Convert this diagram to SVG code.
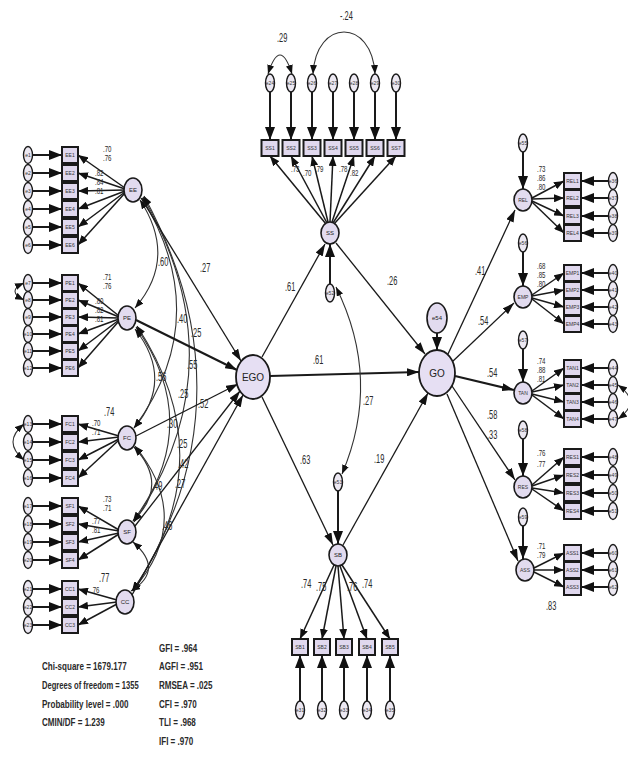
<svg xmlns="http://www.w3.org/2000/svg" width="628" height="761" viewBox="0 0 628 761">
<style>
  .lv{fill:#e2dbef;stroke:#1a1a1a;stroke-width:1.6}
  .big{fill:#e6dff3;stroke:#1a1a1a;stroke-width:1.8}
  .er{fill:#ece8f2;stroke:#1a1a1a;stroke-width:1.4}
  .ob{fill:#e0d8ee;stroke:#1a1a1a;stroke-width:2}
  .t{font-family:"Liberation Sans",Arial,sans-serif;font-size:5px;fill:#333;text-anchor:middle}
  .tl{font-family:"Liberation Sans",Arial,sans-serif;font-size:6px;fill:#222;text-anchor:middle}
  .tb{font-family:"Liberation Sans",Arial,sans-serif;font-size:10px;fill:#222;text-anchor:middle}
  .v{font-family:"Liberation Sans",Arial,sans-serif;font-size:12px;fill:#2a2a2a}
  .vs{font-family:"Liberation Sans",Arial,sans-serif;font-size:8.5px;fill:#2a2a2a}
  .s{font-family:"Liberation Sans",Arial,sans-serif;font-size:11.5px;font-weight:bold;fill:#2a2a2a}
  .p{fill:none;stroke:#1a1a1a;stroke-width:1.3}
  .pk{fill:none;stroke:#1a1a1a;stroke-width:2.2}
  .ld{fill:none;stroke:#1a1a1a;stroke-width:1.5}
  .ea{fill:none;stroke:#1a1a1a;stroke-width:2}
  .cv{fill:none;stroke:#333;stroke-width:1.1}
</style>
<defs>
  <marker id="a" viewBox="0 0 12 8" refX="12" refY="4" markerWidth="12" markerHeight="8" orient="auto" markerUnits="userSpaceOnUse"><path d="M0,0 L12,4 L0,8 z" fill="#111"/></marker>
  <marker id="l" viewBox="0 0 10 8" refX="10" refY="4" markerWidth="10" markerHeight="8" orient="auto" markerUnits="userSpaceOnUse"><path d="M0,0 L10,4 L0,8 z" fill="#111"/></marker>
  <marker id="b" viewBox="0 0 13 10" refX="13" refY="5" markerWidth="13" markerHeight="10" orient="auto" markerUnits="userSpaceOnUse"><path d="M0,0 L13,5 L0,10 z" fill="#111"/></marker>
  <marker id="c" viewBox="0 0 9 7" refX="9" refY="3.5" markerWidth="9" markerHeight="7" orient="auto-start-reverse" markerUnits="userSpaceOnUse"><path d="M0,0 L9,3.5 L0,7 z" fill="#111"/></marker>
</defs>
<rect width="628" height="761" fill="#fff"/>

<!-- connectors -->
<g id="connectors">
  <!-- residuals into left indicators -->
  <g marker-end="url(#b)" class="ea">
    <line x1="33" y1="155" x2="62" y2="155"/><line x1="33" y1="173" x2="62" y2="173"/><line x1="33" y1="191" x2="62" y2="191"/>
    <line x1="33" y1="209" x2="62" y2="209"/><line x1="33" y1="227" x2="62" y2="227"/><line x1="33" y1="245" x2="62" y2="245"/>
    <line x1="33" y1="283" x2="62" y2="283"/><line x1="33" y1="300" x2="62" y2="300"/><line x1="33" y1="317" x2="62" y2="317"/>
    <line x1="33" y1="334" x2="62" y2="334"/><line x1="33" y1="351" x2="62" y2="351"/><line x1="33" y1="368" x2="62" y2="368"/>
    <line x1="33" y1="424" x2="62" y2="424"/><line x1="33" y1="442" x2="62" y2="442"/><line x1="33" y1="460" x2="62" y2="460"/>
    <line x1="33" y1="478" x2="62" y2="478"/>
    <line x1="33" y1="506" x2="62" y2="506"/><line x1="33" y1="524" x2="62" y2="524"/><line x1="33" y1="542" x2="62" y2="542"/>
    <line x1="33" y1="560" x2="62" y2="560"/>
    <line x1="33" y1="589" x2="62" y2="589"/><line x1="33" y1="607" x2="62" y2="607"/><line x1="33" y1="625" x2="62" y2="625"/>
  </g>
  <!-- left loadings -->
  <g marker-end="url(#l)" class="ld">
    <line x1="125" y1="188" x2="78" y2="155"/><line x1="125" y1="189" x2="78" y2="173"/><line x1="125" y1="190" x2="78" y2="191"/>
    <line x1="125" y1="191" x2="78" y2="209"/><line x1="125" y1="192" x2="78" y2="227"/><line x1="125" y1="193" x2="78" y2="245"/>
    <line x1="119" y1="316" x2="78" y2="283"/><line x1="119" y1="317" x2="78" y2="300"/><line x1="119" y1="318" x2="78" y2="317"/>
    <line x1="119" y1="319" x2="78" y2="334"/><line x1="119" y1="320" x2="78" y2="351"/><line x1="119" y1="321" x2="78" y2="368"/>
    <line x1="119" y1="436" x2="78" y2="424"/><line x1="119" y1="437" x2="78" y2="442"/><line x1="119" y1="439" x2="78" y2="460"/>
    <line x1="119" y1="440" x2="78" y2="478"/>
    <line x1="119" y1="530" x2="78" y2="506"/><line x1="119" y1="531" x2="78" y2="524"/><line x1="119" y1="533" x2="78" y2="542"/>
    <line x1="119" y1="534" x2="78" y2="560"/>
    <line x1="117" y1="600" x2="78" y2="589"/><line x1="117" y1="602" x2="78" y2="607"/><line x1="117" y1="604" x2="78" y2="625"/>
  </g>
  <!-- residual covariances among left indicators -->
  <path class="cv" d="M24,283 Q6,291 24,300" marker-start="url(#c)" marker-end="url(#c)"/>
  <path class="cv" d="M24,424 Q2,442 24,460" marker-start="url(#c)" marker-end="url(#c)"/>

  <!-- covariances among first-order factors -->
  <g class="cv" marker-start="url(#c)" marker-end="url(#c)">
    <path d="M140,200 Q178,258 135,308"/>
    <path d="M142,198 Q215,318 134,428"/>
    <path d="M143,197 Q240,365 134,522"/>
    <path d="M144,196 Q255,400 133,591"/>
    <path d="M135,329 Q175,380 134,428"/>
    <path d="M136,327 Q205,425 133,521"/>
    <path d="M137,326 Q225,460 132,591"/>
    <path d="M134,447 Q170,485 133,521"/>
    <path d="M135,446 Q195,520 132,591"/>
    <path d="M133,542 Q165,570 131,591"/>
  </g>

  <!-- first-order factors into EGO -->
  <line class="p" x1="141" y1="198" x2="241" y2="361" marker-end="url(#a)"/>
  <line class="pk" x1="136" y1="320" x2="237" y2="370" marker-end="url(#a)"/>
  <line class="p" x1="136" y1="436" x2="238" y2="384" marker-end="url(#a)"/>
  <line class="p" x1="135" y1="526" x2="240" y2="391" marker-end="url(#a)"/>
  <line class="p" x1="132" y1="595" x2="243" y2="395" marker-end="url(#a)"/>

  <!-- structural paths -->
  <line class="pk" x1="270" y1="376" x2="419" y2="372" marker-end="url(#a)"/>
  <line class="p" x1="262" y1="357" x2="325" y2="244" marker-end="url(#a)"/>
  <line class="p" x1="336" y1="243" x2="425" y2="354" marker-end="url(#a)"/>
  <line class="p" x1="262" y1="397" x2="333" y2="545" marker-end="url(#a)"/>
  <line class="p" x1="343" y1="545" x2="428" y2="393" marker-end="url(#a)"/>
  <line class="p" x1="448" y1="354" x2="515" y2="210" marker-end="url(#a)"/>
  <line class="p" x1="452" y1="362" x2="514" y2="303" marker-end="url(#a)"/>
  <line class="pk" x1="455" y1="376" x2="514" y2="390" marker-end="url(#a)"/>
  <line class="p" x1="452" y1="386" x2="515" y2="480" marker-end="url(#a)"/>
  <line class="p" x1="447" y1="394" x2="518" y2="561" marker-end="url(#a)"/>

  <!-- disturbances -->
  <g class="ea" marker-end="url(#b)">
    <line x1="437" y1="333" x2="437" y2="350"/>
    <line x1="330" y1="284" x2="330" y2="244"/>
    <line x1="338" y1="491" x2="338" y2="544"/>
    <line x1="523" y1="152" x2="523" y2="189"/>
    <line x1="523" y1="252" x2="523" y2="286"/>
    <line x1="523" y1="349" x2="523" y2="382"/>
    <line x1="523" y1="439" x2="523" y2="476"/>
    <line x1="523" y1="526" x2="523" y2="559"/>
  </g>
  <path class="cv" d="M336,287 Q382,380 342,474" marker-start="url(#c)" marker-end="url(#c)"/>

  <!-- top indicators -->
  <g class="ea" marker-end="url(#b)">
    <line x1="270" y1="92" x2="270" y2="140"/><line x1="291" y1="92" x2="291" y2="140"/><line x1="312" y1="92" x2="312" y2="140"/>
    <line x1="333" y1="92" x2="333" y2="140"/><line x1="354" y1="92" x2="354" y2="140"/><line x1="375" y1="92" x2="375" y2="140"/>
    <line x1="396" y1="92" x2="396" y2="140"/>
  </g>
  <g class="ld" marker-end="url(#l)">
    <line x1="326" y1="224" x2="270" y2="156"/><line x1="327" y1="223" x2="291" y2="156"/><line x1="328" y1="222" x2="312" y2="156"/>
    <line x1="330" y1="222" x2="333" y2="156"/><line x1="332" y1="222" x2="354" y2="156"/><line x1="333" y1="223" x2="375" y2="156"/>
    <line x1="334" y1="224" x2="396" y2="156"/>
  </g>
  <path class="cv" d="M268,74 Q280,36 292,74" marker-start="url(#c)" marker-end="url(#c)"/>
  <path class="cv" d="M313,74 C316,18 372,18 375,74" marker-start="url(#c)" marker-end="url(#c)"/>

  <!-- bottom indicators -->
  <g class="ld" marker-end="url(#l)">
    <line x1="334" y1="565" x2="300" y2="639"/><line x1="336" y1="566" x2="322" y2="639"/><line x1="338" y1="566" x2="344" y2="639"/>
    <line x1="340" y1="566" x2="367" y2="639"/><line x1="342" y1="565" x2="390" y2="639"/>
  </g>
  <g class="ea" marker-end="url(#b)">
    <line x1="300" y1="701" x2="300" y2="655"/><line x1="322" y1="701" x2="322" y2="655"/><line x1="344" y1="701" x2="344" y2="655"/>
    <line x1="367" y1="701" x2="367" y2="655"/><line x1="390" y1="701" x2="390" y2="655"/>
  </g>

  <!-- right indicators -->
  <g class="ld" marker-end="url(#l)">
    <line x1="532" y1="198" x2="564" y2="181"/><line x1="532" y1="199" x2="564" y2="198"/><line x1="532" y1="201" x2="564" y2="216"/><line x1="532" y1="202" x2="564" y2="233"/>
    <line x1="532" y1="295" x2="564" y2="273"/><line x1="532" y1="296" x2="564" y2="290"/><line x1="532" y1="298" x2="564" y2="307"/><line x1="532" y1="299" x2="564" y2="324"/>
    <line x1="532" y1="391" x2="564" y2="368"/><line x1="532" y1="392" x2="564" y2="385"/><line x1="532" y1="394" x2="564" y2="402"/><line x1="532" y1="395" x2="564" y2="419"/>
    <line x1="532" y1="485" x2="564" y2="457"/><line x1="532" y1="486" x2="564" y2="475"/><line x1="532" y1="488" x2="564" y2="493"/><line x1="532" y1="489" x2="564" y2="511"/>
    <line x1="534" y1="568" x2="564" y2="553"/><line x1="534" y1="570" x2="564" y2="570"/><line x1="534" y1="572" x2="564" y2="587"/>
  </g>
  <g class="ea" marker-end="url(#b)">
    <line x1="608" y1="181" x2="581" y2="181"/><line x1="608" y1="198" x2="581" y2="198"/><line x1="608" y1="216" x2="581" y2="216"/><line x1="608" y1="233" x2="581" y2="233"/>
    <line x1="608" y1="273" x2="581" y2="273"/><line x1="608" y1="290" x2="581" y2="290"/><line x1="608" y1="307" x2="581" y2="307"/><line x1="608" y1="324" x2="581" y2="324"/>
    <line x1="608" y1="368" x2="581" y2="368"/><line x1="608" y1="385" x2="581" y2="385"/><line x1="608" y1="402" x2="581" y2="402"/><line x1="608" y1="419" x2="581" y2="419"/>
    <line x1="608" y1="457" x2="581" y2="457"/><line x1="608" y1="475" x2="581" y2="475"/><line x1="608" y1="493" x2="581" y2="493"/><line x1="608" y1="511" x2="581" y2="511"/>
    <line x1="608" y1="553" x2="581" y2="553"/><line x1="608" y1="570" x2="581" y2="570"/><line x1="608" y1="587" x2="581" y2="587"/>
  </g>
  <path class="cv" d="M618,385 Q642,402 618,419" marker-start="url(#c)" marker-end="url(#c)"/>
</g>

<!-- left residual terms -->
<g id="left-errors">
  <g id="e1"><ellipse class="er" cx="28" cy="155" rx="4.5" ry="8.5"/><text class="t" x="28" y="157">e1</text></g>
  <g id="e2"><ellipse class="er" cx="28" cy="173" rx="4.5" ry="8.5"/><text class="t" x="28" y="175">e2</text></g>
  <g id="e3"><ellipse class="er" cx="28" cy="191" rx="4.5" ry="8.5"/><text class="t" x="28" y="193">e3</text></g>
  <g id="e4"><ellipse class="er" cx="28" cy="209" rx="4.5" ry="8.5"/><text class="t" x="28" y="211">e4</text></g>
  <g id="e5"><ellipse class="er" cx="28" cy="227" rx="4.5" ry="8.5"/><text class="t" x="28" y="229">e5</text></g>
  <g id="e6"><ellipse class="er" cx="28" cy="245" rx="4.5" ry="8.5"/><text class="t" x="28" y="247">e6</text></g>
  <g id="e7"><ellipse class="er" cx="28" cy="283" rx="4.5" ry="8.5"/><text class="t" x="28" y="285">e7</text></g>
  <g id="e8"><ellipse class="er" cx="28" cy="300" rx="4.5" ry="8.5"/><text class="t" x="28" y="302">e8</text></g>
  <g id="e9"><ellipse class="er" cx="28" cy="317" rx="4.5" ry="8.5"/><text class="t" x="28" y="319">e9</text></g>
  <g id="e10"><ellipse class="er" cx="28" cy="334" rx="4.5" ry="8.5"/><text class="t" x="28" y="336">e10</text></g>
  <g id="e11"><ellipse class="er" cx="28" cy="351" rx="4.5" ry="8.5"/><text class="t" x="28" y="353">e11</text></g>
  <g id="e12"><ellipse class="er" cx="28" cy="368" rx="4.5" ry="8.5"/><text class="t" x="28" y="370">e12</text></g>
  <g id="e13"><ellipse class="er" cx="28" cy="424" rx="4.5" ry="8.5"/><text class="t" x="28" y="426">e13</text></g>
  <g id="e14"><ellipse class="er" cx="28" cy="442" rx="4.5" ry="8.5"/><text class="t" x="28" y="444">e14</text></g>
  <g id="e15"><ellipse class="er" cx="28" cy="460" rx="4.5" ry="8.5"/><text class="t" x="28" y="462">e15</text></g>
  <g id="e16"><ellipse class="er" cx="28" cy="478" rx="4.5" ry="8.5"/><text class="t" x="28" y="480">e16</text></g>
  <g id="e17"><ellipse class="er" cx="28" cy="506" rx="4.5" ry="8.5"/><text class="t" x="28" y="508">e17</text></g>
  <g id="e18"><ellipse class="er" cx="28" cy="524" rx="4.5" ry="8.5"/><text class="t" x="28" y="526">e18</text></g>
  <g id="e19"><ellipse class="er" cx="28" cy="542" rx="4.5" ry="8.5"/><text class="t" x="28" y="544">e19</text></g>
  <g id="e20"><ellipse class="er" cx="28" cy="560" rx="4.5" ry="8.5"/><text class="t" x="28" y="562">e20</text></g>
  <g id="e21"><ellipse class="er" cx="28" cy="589" rx="4.5" ry="8.5"/><text class="t" x="28" y="591">e21</text></g>
  <g id="e22"><ellipse class="er" cx="28" cy="607" rx="4.5" ry="8.5"/><text class="t" x="28" y="609">e22</text></g>
  <g id="e23"><ellipse class="er" cx="28" cy="625" rx="4.5" ry="8.5"/><text class="t" x="28" y="627">e23</text></g>
</g>

<!-- left indicators -->
<g id="left-items">
  <g id="EE1"><rect class="ob" x="62" y="147" width="16" height="16"/><text class="t" x="70" y="157">EE1</text></g>
  <g id="EE2"><rect class="ob" x="62" y="165" width="16" height="16"/><text class="t" x="70" y="175">EE2</text></g>
  <g id="EE3"><rect class="ob" x="62" y="183" width="16" height="16"/><text class="t" x="70" y="193">EE3</text></g>
  <g id="EE4"><rect class="ob" x="62" y="201" width="16" height="16"/><text class="t" x="70" y="211">EE4</text></g>
  <g id="EE5"><rect class="ob" x="62" y="219" width="16" height="16"/><text class="t" x="70" y="229">EE5</text></g>
  <g id="EE6"><rect class="ob" x="62" y="237" width="16" height="16"/><text class="t" x="70" y="247">EE6</text></g>
  <g id="PE1"><rect class="ob" x="62" y="275" width="16" height="16"/><text class="t" x="70" y="285">PE1</text></g>
  <g id="PE2"><rect class="ob" x="62" y="292" width="16" height="16"/><text class="t" x="70" y="302">PE2</text></g>
  <g id="PE3"><rect class="ob" x="62" y="309" width="16" height="16"/><text class="t" x="70" y="319">PE3</text></g>
  <g id="PE4"><rect class="ob" x="62" y="326" width="16" height="16"/><text class="t" x="70" y="336">PE4</text></g>
  <g id="PE5"><rect class="ob" x="62" y="343" width="16" height="16"/><text class="t" x="70" y="353">PE5</text></g>
  <g id="PE6"><rect class="ob" x="62" y="360" width="16" height="16"/><text class="t" x="70" y="370">PE6</text></g>
  <g id="FC1"><rect class="ob" x="62" y="416" width="16" height="16"/><text class="t" x="70" y="426">FC1</text></g>
  <g id="FC2"><rect class="ob" x="62" y="434" width="16" height="16"/><text class="t" x="70" y="444">FC2</text></g>
  <g id="FC3"><rect class="ob" x="62" y="452" width="16" height="16"/><text class="t" x="70" y="462">FC3</text></g>
  <g id="FC4"><rect class="ob" x="62" y="470" width="16" height="16"/><text class="t" x="70" y="480">FC4</text></g>
  <g id="SF1"><rect class="ob" x="62" y="498" width="16" height="16"/><text class="t" x="70" y="508">SF1</text></g>
  <g id="SF2"><rect class="ob" x="62" y="516" width="16" height="16"/><text class="t" x="70" y="526">SF2</text></g>
  <g id="SF3"><rect class="ob" x="62" y="534" width="16" height="16"/><text class="t" x="70" y="544">SF3</text></g>
  <g id="SF4"><rect class="ob" x="62" y="552" width="16" height="16"/><text class="t" x="70" y="562">SF4</text></g>
  <g id="CC1"><rect class="ob" x="62" y="581" width="16" height="16"/><text class="t" x="70" y="591">CC1</text></g>
  <g id="CC2"><rect class="ob" x="62" y="599" width="16" height="16"/><text class="t" x="70" y="609">CC2</text></g>
  <g id="CC3"><rect class="ob" x="62" y="617" width="16" height="16"/><text class="t" x="70" y="627">CC3</text></g>
</g>

<!-- first-order factors (left) -->
<g id="EE"><ellipse class="lv" cx="133" cy="190" rx="9" ry="12"/><text class="tl" x="133" y="192">EE</text></g>
<g id="PE"><ellipse class="lv" cx="127" cy="318" rx="9" ry="12"/><text class="tl" x="127" y="320">PE</text></g>
<g id="FC"><ellipse class="lv" cx="127" cy="438" rx="9" ry="12"/><text class="tl" x="127" y="440">FC</text></g>
<g id="SF"><ellipse class="lv" cx="127" cy="532" rx="9" ry="12"/><text class="tl" x="127" y="534">SF</text></g>
<g id="CC"><ellipse class="lv" cx="125" cy="602" rx="9" ry="12"/><text class="tl" x="125" y="604">CC</text></g>

<!-- central factors -->
<g id="EGO"><ellipse class="big" cx="253" cy="377" rx="17" ry="22"/><text class="tb" x="253" y="381">EGO</text></g>
<g id="GO"><ellipse class="big" cx="437" cy="373" rx="18" ry="23"/><text class="tb" x="437" y="377">GO</text></g>
<g id="e54"><ellipse class="lv" cx="437" cy="318" rx="10" ry="15"/><text class="tl" x="437" y="320">e54</text></g>

<!-- upper mediator and its items -->
<g id="SS"><ellipse class="lv" cx="330" cy="233" rx="9" ry="11"/><text class="tl" x="330" y="235">SS</text></g>
<g id="e52"><ellipse class="er" cx="330" cy="293" rx="4.5" ry="9"/><text class="t" x="330" y="295">e52</text></g>
<g id="top-items">
  <g id="SS1"><rect class="ob" x="261.5" y="140" width="17" height="16"/><text class="t" x="270" y="150">SS1</text></g>
  <g id="SS2"><rect class="ob" x="282.5" y="140" width="17" height="16"/><text class="t" x="291" y="150">SS2</text></g>
  <g id="SS3"><rect class="ob" x="303.5" y="140" width="17" height="16"/><text class="t" x="312" y="150">SS3</text></g>
  <g id="SS4"><rect class="ob" x="324.5" y="140" width="17" height="16"/><text class="t" x="333" y="150">SS4</text></g>
  <g id="SS5"><rect class="ob" x="345.5" y="140" width="17" height="16"/><text class="t" x="354" y="150">SS5</text></g>
  <g id="SS6"><rect class="ob" x="366.5" y="140" width="17" height="16"/><text class="t" x="375" y="150">SS6</text></g>
  <g id="SS7"><rect class="ob" x="387.5" y="140" width="17" height="16"/><text class="t" x="396" y="150">SS7</text></g>
</g>
<g id="top-errors">
  <g id="e24"><ellipse class="er" cx="270" cy="83" rx="4.5" ry="9"/><text class="t" x="270" y="85">e24</text></g>
  <g id="e25"><ellipse class="er" cx="291" cy="83" rx="4.5" ry="9"/><text class="t" x="291" y="85">e25</text></g>
  <g id="e26"><ellipse class="er" cx="312" cy="83" rx="4.5" ry="9"/><text class="t" x="312" y="85">e26</text></g>
  <g id="e27"><ellipse class="er" cx="333" cy="83" rx="4.5" ry="9"/><text class="t" x="333" y="85">e27</text></g>
  <g id="e28"><ellipse class="er" cx="354" cy="83" rx="4.5" ry="9"/><text class="t" x="354" y="85">e28</text></g>
  <g id="e29"><ellipse class="er" cx="375" cy="83" rx="4.5" ry="9"/><text class="t" x="375" y="85">e29</text></g>
  <g id="e30"><ellipse class="er" cx="396" cy="83" rx="4.5" ry="9"/><text class="t" x="396" y="85">e30</text></g>
</g>

<!-- lower mediator and its items -->
<g id="SB"><ellipse class="lv" cx="338" cy="555" rx="9" ry="11"/><text class="tl" x="338" y="557">SB</text></g>
<g id="e53"><ellipse class="er" cx="338" cy="482" rx="4.5" ry="9"/><text class="t" x="338" y="484">e53</text></g>
<g id="bottom-items">
  <g id="SB1"><rect class="ob" x="292" y="639" width="16" height="16"/><text class="t" x="300" y="649">SB1</text></g>
  <g id="SB2"><rect class="ob" x="314" y="639" width="16" height="16"/><text class="t" x="322" y="649">SB2</text></g>
  <g id="SB3"><rect class="ob" x="336" y="639" width="16" height="16"/><text class="t" x="344" y="649">SB3</text></g>
  <g id="SB4"><rect class="ob" x="359" y="639" width="16" height="16"/><text class="t" x="367" y="649">SB4</text></g>
  <g id="SB5"><rect class="ob" x="382" y="639" width="16" height="16"/><text class="t" x="390" y="649">SB5</text></g>
</g>
<g id="bottom-errors">
  <g id="e31"><ellipse class="er" cx="300" cy="710" rx="4.5" ry="9"/><text class="t" x="300" y="712">e31</text></g>
  <g id="e32"><ellipse class="er" cx="322" cy="710" rx="4.5" ry="9"/><text class="t" x="322" y="712">e32</text></g>
  <g id="e33"><ellipse class="er" cx="344" cy="710" rx="4.5" ry="9"/><text class="t" x="344" y="712">e33</text></g>
  <g id="e34"><ellipse class="er" cx="367" cy="710" rx="4.5" ry="9"/><text class="t" x="367" y="712">e34</text></g>
  <g id="e35"><ellipse class="er" cx="390" cy="710" rx="4.5" ry="9"/><text class="t" x="390" y="712">e35</text></g>
</g>

<!-- first-order factors (right) -->
<g id="REL"><ellipse class="lv" cx="523" cy="200" rx="9" ry="11"/><text class="t" x="523" y="202">REL</text></g>
<g id="EMP"><ellipse class="lv" cx="523" cy="297" rx="9" ry="11"/><text class="t" x="523" y="299">EMP</text></g>
<g id="TAN"><ellipse class="lv" cx="523" cy="393" rx="9" ry="11"/><text class="t" x="523" y="395">TAN</text></g>
<g id="RES"><ellipse class="lv" cx="523" cy="487" rx="9" ry="11"/><text class="t" x="523" y="489">RES</text></g>
<g id="ASS"><ellipse class="lv" cx="525" cy="570" rx="9" ry="11"/><text class="t" x="525" y="572">ASS</text></g>
<g id="right-disturbances">
  <g id="e55"><ellipse class="er" cx="523" cy="143" rx="4.5" ry="9"/><text class="t" x="523" y="145">e55</text></g>
  <g id="e56"><ellipse class="er" cx="523" cy="243" rx="4.5" ry="9"/><text class="t" x="523" y="245">e56</text></g>
  <g id="e57"><ellipse class="er" cx="523" cy="340" rx="4.5" ry="9"/><text class="t" x="523" y="342">e57</text></g>
  <g id="e58"><ellipse class="er" cx="523" cy="430" rx="4.5" ry="9"/><text class="t" x="523" y="432">e58</text></g>
  <g id="e59"><ellipse class="er" cx="523" cy="517" rx="4.5" ry="9"/><text class="t" x="523" y="519">e59</text></g>
</g>
<g id="right-items">
  <g id="REL1"><rect class="ob" x="564" y="173" width="17" height="16"/><text class="t" x="572.5" y="183">REL1</text></g>
  <g id="REL2"><rect class="ob" x="564" y="190" width="17" height="16"/><text class="t" x="572.5" y="200">REL2</text></g>
  <g id="REL3"><rect class="ob" x="564" y="208" width="17" height="16"/><text class="t" x="572.5" y="218">REL3</text></g>
  <g id="REL4"><rect class="ob" x="564" y="225" width="17" height="16"/><text class="t" x="572.5" y="235">REL4</text></g>
  <g id="EMP1"><rect class="ob" x="564" y="265" width="17" height="16"/><text class="t" x="572.5" y="275">EMP1</text></g>
  <g id="EMP2"><rect class="ob" x="564" y="282" width="17" height="16"/><text class="t" x="572.5" y="292">EMP2</text></g>
  <g id="EMP3"><rect class="ob" x="564" y="299" width="17" height="16"/><text class="t" x="572.5" y="309">EMP3</text></g>
  <g id="EMP4"><rect class="ob" x="564" y="316" width="17" height="16"/><text class="t" x="572.5" y="326">EMP4</text></g>
  <g id="TAN1"><rect class="ob" x="564" y="360" width="17" height="16"/><text class="t" x="572.5" y="370">TAN1</text></g>
  <g id="TAN2"><rect class="ob" x="564" y="377" width="17" height="16"/><text class="t" x="572.5" y="387">TAN2</text></g>
  <g id="TAN3"><rect class="ob" x="564" y="394" width="17" height="16"/><text class="t" x="572.5" y="404">TAN3</text></g>
  <g id="TAN4"><rect class="ob" x="564" y="411" width="17" height="16"/><text class="t" x="572.5" y="421">TAN4</text></g>
  <g id="RES1"><rect class="ob" x="564" y="449" width="17" height="16"/><text class="t" x="572.5" y="459">RES1</text></g>
  <g id="RES2"><rect class="ob" x="564" y="467" width="17" height="16"/><text class="t" x="572.5" y="477">RES2</text></g>
  <g id="RES3"><rect class="ob" x="564" y="485" width="17" height="16"/><text class="t" x="572.5" y="495">RES3</text></g>
  <g id="RES4"><rect class="ob" x="564" y="503" width="17" height="16"/><text class="t" x="572.5" y="513">RES4</text></g>
  <g id="ASS1"><rect class="ob" x="564" y="545" width="17" height="16"/><text class="t" x="572.5" y="555">ASS1</text></g>
  <g id="ASS2"><rect class="ob" x="564" y="562" width="17" height="16"/><text class="t" x="572.5" y="572">ASS2</text></g>
  <g id="ASS3"><rect class="ob" x="564" y="579" width="17" height="16"/><text class="t" x="572.5" y="589">ASS3</text></g>
</g>
<g id="right-errors">
  <g id="e36"><ellipse class="er" cx="613" cy="181" rx="4.5" ry="8.5"/><text class="t" x="613" y="183">e36</text></g>
  <g id="e37"><ellipse class="er" cx="613" cy="198" rx="4.5" ry="8.5"/><text class="t" x="613" y="200">e37</text></g>
  <g id="e38"><ellipse class="er" cx="613" cy="216" rx="4.5" ry="8.5"/><text class="t" x="613" y="218">e38</text></g>
  <g id="e39"><ellipse class="er" cx="613" cy="233" rx="4.5" ry="8.5"/><text class="t" x="613" y="235">e39</text></g>
  <g id="e40"><ellipse class="er" cx="613" cy="273" rx="4.5" ry="8.5"/><text class="t" x="613" y="275">e40</text></g>
  <g id="e41"><ellipse class="er" cx="613" cy="290" rx="4.5" ry="8.5"/><text class="t" x="613" y="292">e41</text></g>
  <g id="e42"><ellipse class="er" cx="613" cy="307" rx="4.5" ry="8.5"/><text class="t" x="613" y="309">e42</text></g>
  <g id="e43"><ellipse class="er" cx="613" cy="324" rx="4.5" ry="8.5"/><text class="t" x="613" y="326">e43</text></g>
  <g id="e44"><ellipse class="er" cx="613" cy="368" rx="4.5" ry="8.5"/><text class="t" x="613" y="370">e44</text></g>
  <g id="e45"><ellipse class="er" cx="613" cy="385" rx="4.5" ry="8.5"/><text class="t" x="613" y="387">e45</text></g>
  <g id="e46"><ellipse class="er" cx="613" cy="402" rx="4.5" ry="8.5"/><text class="t" x="613" y="404">e46</text></g>
  <g id="e47"><ellipse class="er" cx="613" cy="419" rx="4.5" ry="8.5"/><text class="t" x="613" y="421">e47</text></g>
  <g id="e48"><ellipse class="er" cx="613" cy="457" rx="4.5" ry="8.5"/><text class="t" x="613" y="459">e48</text></g>
  <g id="e49"><ellipse class="er" cx="613" cy="475" rx="4.5" ry="8.5"/><text class="t" x="613" y="477">e49</text></g>
  <g id="e50"><ellipse class="er" cx="613" cy="493" rx="4.5" ry="8.5"/><text class="t" x="613" y="495">e50</text></g>
  <g id="e51"><ellipse class="er" cx="613" cy="511" rx="4.5" ry="8.5"/><text class="t" x="613" y="513">e51</text></g>
  <g id="e60"><ellipse class="er" cx="613" cy="553" rx="4.5" ry="8.5"/><text class="t" x="613" y="555">e60</text></g>
  <g id="e61"><ellipse class="er" cx="613" cy="570" rx="4.5" ry="8.5"/><text class="t" x="613" y="572">e61</text></g>
  <g id="e62"><ellipse class="er" cx="613" cy="587" rx="4.5" ry="8.5"/><text class="t" x="613" y="589">e62</text></g>
</g>

<!-- estimates: path labels are drawn narrow and tall -->
<g id="estimates">
  <!-- stacked loadings, left -->
  <text class="vs" transform="translate(103,152) scale(.72,1)">.70</text>
  <text class="vs" transform="translate(103,161) scale(.72,1)">.76</text>
  <text class="vs" transform="translate(95,176) scale(.72,1)">.82</text>
  <text class="vs" transform="translate(95,185) scale(.72,1)">.84</text>
  <text class="vs" transform="translate(95,194) scale(.72,1)">.81</text>
  <text class="vs" transform="translate(103,280) scale(.72,1)">.71</text>
  <text class="vs" transform="translate(103,289) scale(.72,1)">.76</text>
  <text class="vs" transform="translate(95,304) scale(.72,1)">.80</text>
  <text class="vs" transform="translate(95,313) scale(.72,1)">.82</text>
  <text class="vs" transform="translate(95,322) scale(.72,1)">.81</text>
  <text class="v" transform="translate(104,416) scale(.62,1)">.74</text>
  <text class="vs" transform="translate(92,426) scale(.72,1)">.70</text>
  <text class="vs" transform="translate(92,435) scale(.72,1)">.71</text>
  <text class="vs" transform="translate(103,502) scale(.72,1)">.73</text>
  <text class="vs" transform="translate(103,511) scale(.72,1)">.71</text>
  <text class="vs" transform="translate(92,524) scale(.72,1)">.77</text>
  <text class="vs" transform="translate(92,533) scale(.72,1)">.81</text>
  <text class="v" transform="translate(99,582) scale(.62,1)">.77</text>
  <text class="vs" transform="translate(91,593) scale(.72,1)">.76</text>

  <!-- factor covariances and paths into EGO -->
  <text class="v" transform="translate(158,266) scale(.62,1)">.60</text>
  <text class="v" transform="translate(200,272) scale(.62,1)">.27</text>
  <text class="v" transform="translate(177,323) scale(.62,1)">.40</text>
  <text class="v" transform="translate(191,337) scale(.62,1)">.25</text>
  <text class="v" transform="translate(187,369) scale(.62,1)">.55</text>
  <text class="v" transform="translate(156,381) scale(.62,1)">.56</text>
  <text class="v" transform="translate(178,398) scale(.62,1)">.25</text>
  <text class="v" transform="translate(198,408) scale(.62,1)">.52</text>
  <text class="v" transform="translate(167,428) scale(.62,1)">.30</text>
  <text class="v" transform="translate(177,448) scale(.62,1)">.25</text>
  <text class="v" transform="translate(178,468) scale(.62,1)">.42</text>
  <text class="v" transform="translate(175,488) scale(.62,1)">.27</text>
  <text class="v" transform="translate(152,490) scale(.62,1)">.49</text>
  <text class="v" transform="translate(162,530) scale(.62,1)">.46</text>

  <!-- top block -->
  <text class="v" transform="translate(277,42) scale(.62,1)">.29</text>
  <text class="v" transform="translate(340,20) scale(.62,1)">-.24</text>
  <text class="vs" transform="translate(291,172) scale(.72,1)">.73</text>
  <text class="vs" transform="translate(303,176) scale(.72,1)">.70</text>
  <text class="vs" transform="translate(315,172) scale(.72,1)">.79</text>
  <text class="vs" transform="translate(339,172) scale(.72,1)">.78</text>
  <text class="vs" transform="translate(350,176) scale(.72,1)">.82</text>

  <!-- structural paths -->
  <text class="v" transform="translate(285,291) scale(.62,1)">.61</text>
  <text class="v" transform="translate(387,285) scale(.62,1)">.26</text>
  <text class="v" transform="translate(313,364) scale(.62,1)">.61</text>
  <text class="v" transform="translate(363,405) scale(.62,1)">.27</text>
  <text class="v" transform="translate(300,464) scale(.62,1)">.63</text>
  <text class="v" transform="translate(374,463) scale(.62,1)">.19</text>

  <!-- bottom block -->
  <text class="v" transform="translate(301,588) scale(.62,1)">.74</text>
  <text class="v" transform="translate(316,591) scale(.62,1)">.75</text>
  <text class="v" transform="translate(347,591) scale(.62,1)">.76</text>
  <text class="v" transform="translate(362,588) scale(.62,1)">.74</text>

  <!-- second-order loadings of GO -->
  <text class="v" transform="translate(475,275) scale(.62,1)">.41</text>
  <text class="v" transform="translate(478,325) scale(.62,1)">.54</text>
  <text class="v" transform="translate(487,377) scale(.62,1)">.54</text>
  <text class="v" transform="translate(487,419) scale(.62,1)">.58</text>
  <text class="v" transform="translate(487,439) scale(.62,1)">.33</text>

  <!-- stacked loadings, right -->
  <text class="vs" transform="translate(537,172) scale(.72,1)">.73</text>
  <text class="vs" transform="translate(537,181) scale(.72,1)">.86</text>
  <text class="vs" transform="translate(537,190) scale(.72,1)">.80</text>
  <text class="vs" transform="translate(537,269) scale(.72,1)">.68</text>
  <text class="vs" transform="translate(537,278) scale(.72,1)">.85</text>
  <text class="vs" transform="translate(537,287) scale(.72,1)">.80</text>
  <text class="vs" transform="translate(537,364) scale(.72,1)">.74</text>
  <text class="vs" transform="translate(537,373) scale(.72,1)">.88</text>
  <text class="vs" transform="translate(537,382) scale(.72,1)">.81</text>
  <text class="vs" transform="translate(537,456) scale(.72,1)">.76</text>
  <text class="vs" transform="translate(537,467) scale(.72,1)">.77</text>
  <text class="vs" transform="translate(537,549) scale(.72,1)">.71</text>
  <text class="vs" transform="translate(537,558) scale(.72,1)">.79</text>
  <text class="v" transform="translate(546,610) scale(.62,1)">.83</text>
</g>

<!-- fit statistics -->
<g id="fit">
  <text class="s" transform="translate(42,670) scale(.7,1)">Chi-square = 1679.177</text>
  <text class="s" transform="translate(42,689) scale(.66,1)">Degrees of freedom = 1355</text>
  <text class="s" transform="translate(42,708) scale(.7,1)">Probability level = .000</text>
  <text class="s" transform="translate(42,726) scale(.7,1)">CMIN/DF = 1.239</text>
  <text class="s" transform="translate(159,652) scale(.7,1)">GFI = .964</text>
  <text class="s" transform="translate(159,670) scale(.7,1)">AGFI = .951</text>
  <text class="s" transform="translate(159,689) scale(.7,1)">RMSEA = .025</text>
  <text class="s" transform="translate(159,708) scale(.7,1)">CFI = .970</text>
  <text class="s" transform="translate(159,726) scale(.7,1)">TLI = .968</text>
  <text class="s" transform="translate(159,745) scale(.7,1)">IFI = .970</text>
</g>
</svg>
